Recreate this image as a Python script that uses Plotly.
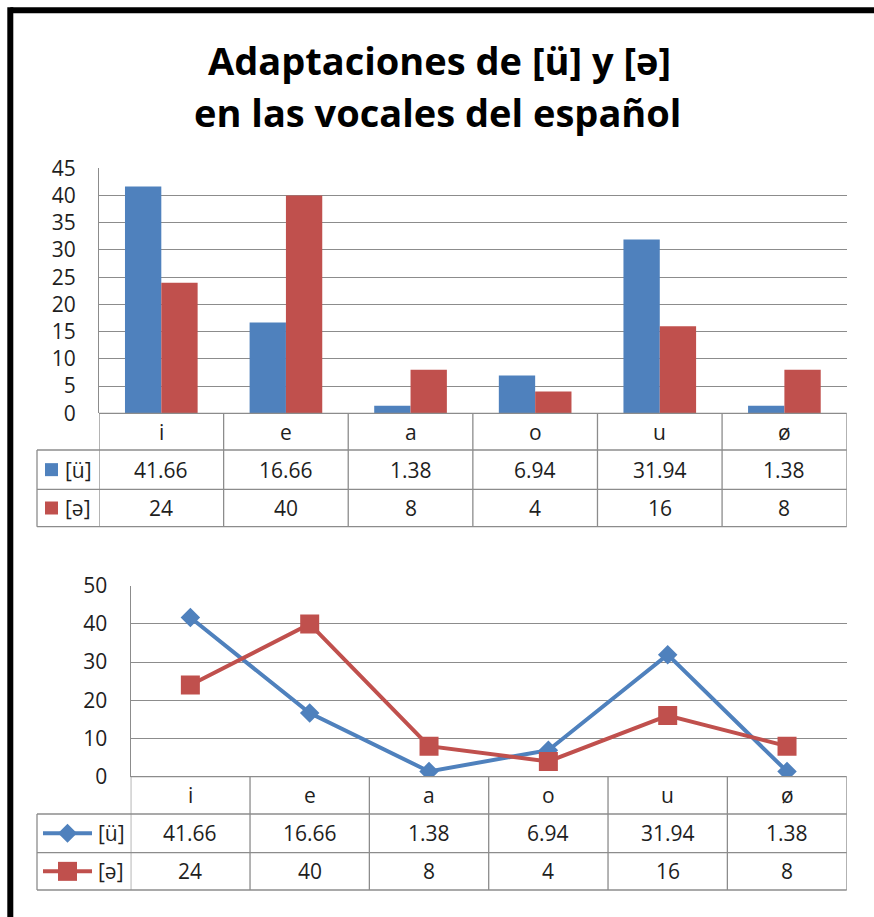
import plotly.graph_objects as go

# ---- data ----
categories = ["i", "e", "a", "o", "u", "ø"]
series_names = ["[ü]", "[ə]"]
u_values = [41.66, 16.66, 1.38, 6.94, 31.94, 1.38]
schwa_values = [24, 40, 8, 4, 16, 8]
bar_ticks = [0, 5, 10, 15, 20, 25, 30, 35, 40, 45]
line_ticks = [0, 10, 20, 30, 40, 50]
title_lines = ["Adaptaciones de [ü] y [ə]", "en las vocales del español"]

# ---- styling ----
W, H = 874, 917
BLUE = "#4F81BD"
RED = "#C0504D"
GRID = "#8C8C8C"
TXT = "#1E1E1E"
FONT = "Open Sans"


def px(x):
    return x / W


def py(y):
    return 1 - y / H


fig = go.Figure()

# clustered columns (top chart)
fig.add_trace(go.Bar(x=categories, y=u_values, name=series_names[0],
                     marker=dict(color=BLUE, line=dict(width=0)),
                     xaxis="x", yaxis="y", showlegend=False))
fig.add_trace(go.Bar(x=categories, y=schwa_values, name=series_names[1],
                     marker=dict(color=RED, line=dict(width=0)),
                     xaxis="x", yaxis="y", showlegend=False))

# lines with markers (bottom chart)
fig.add_trace(go.Scatter(x=categories, y=u_values, name=series_names[0],
                         mode="lines+markers",
                         line=dict(color=BLUE, width=4),
                         marker=dict(symbol="diamond", size=15, color=BLUE),
                         xaxis="x2", yaxis="y2", showlegend=False))
fig.add_trace(go.Scatter(x=categories, y=schwa_values, name=series_names[1],
                         mode="lines+markers",
                         line=dict(color=RED, width=4),
                         marker=dict(symbol="square", size=19, color=RED),
                         xaxis="x2", yaxis="y2", showlegend=False))

shapes = []
annotations = []

# outer frame (top and left edges)
shapes.append(dict(type="line", xref="paper", yref="paper",
                   x0=px(10.3), x1=1.0, y0=py(10.3), y1=py(10.3),
                   line=dict(color="black", width=6)))
shapes.append(dict(type="line", xref="paper", yref="paper",
                   x0=px(10.3), x1=px(10.3), y0=py(7.3), y1=0.0,
                   line=dict(color="black", width=6)))

# title
annotations.append(dict(text="<b>%s</b>" % title_lines[0], xref="paper", yref="paper",
                        x=px(439), y=py(60), xanchor="center", yanchor="middle",
                        showarrow=False, font=dict(family=FONT, size=38, color="black")))
annotations.append(dict(text="<b>%s</b>" % title_lines[1], xref="paper", yref="paper",
                        x=px(437), y=py(112), xanchor="center", yanchor="middle",
                        showarrow=False, font=dict(family=FONT, size=38, color="black")))


def data_table(xref, x_left, x_right, legend_left, rows, key):
    """Data table under a chart: category row + one row per series."""
    top, r1, r2, bottom = rows
    n = len(categories)
    # horizontal rules
    shapes.append(dict(type="line", xref="paper", yref="paper",
                       x0=px(x_left), x1=px(x_right), y0=py(top), y1=py(top),
                       line=dict(color=GRID, width=1.3)))
    for y in (r1, r2, bottom):
        shapes.append(dict(type="line", xref="paper", yref="paper",
                           x0=px(legend_left), x1=px(x_right), y0=py(y), y1=py(y),
                           line=dict(color=GRID, width=1.3)))
    # vertical rules at the category boundaries
    for k in range(n + 1):
        shapes.append(dict(type="line", xref=xref, yref="paper",
                           x0=k - 0.5, x1=k - 0.5, y0=py(top), y1=py(bottom),
                           line=dict(color=GRID, width=1.3)))
    shapes.append(dict(type="line", xref="paper", yref="paper",
                       x0=px(legend_left), x1=px(legend_left), y0=py(r1), y1=py(bottom),
                       line=dict(color=GRID, width=1.3)))
    # cells
    row_centres = [(top + r1) / 2, (r1 + r2) / 2, (r2 + bottom) / 2]
    for cat, a, b in zip(categories, u_values, schwa_values):
        for txt, yc in ((cat, row_centres[0]), (f"{a:g}", row_centres[1]),
                        (f"{b:g}", row_centres[2])):
            annotations.append(dict(text=txt, xref=xref, yref="paper",
                                    x=cat, y=py(yc), xanchor="center", yanchor="middle",
                                    showarrow=False,
                                    font=dict(family=FONT, size=21, color=TXT)))
    # legend keys + series names
    for name, color, yc, sym in ((series_names[0], BLUE, row_centres[1], "diamond"),
                                 (series_names[1], RED, row_centres[2], "square")):
        if key == "box":
            shapes.append(dict(type="rect", xref="paper", yref="paper",
                               x0=px(45), x1=px(58), y0=py(yc - 6.5), y1=py(yc + 6.5),
                               fillcolor=color, line=dict(width=0)))
            tx = 63
        else:
            shapes.append(dict(type="line", xref="paper", yref="paper",
                               x0=px(43), x1=px(92), y0=py(yc), y1=py(yc),
                               line=dict(color=color, width=4)))
            cx = 67.5
            r = 9.5
            if sym == "diamond":
                path = (f"M {px(cx - r)},{py(yc)} L {px(cx)},{py(yc - r)} "
                        f"L {px(cx + r)},{py(yc)} L {px(cx)},{py(yc + r)} Z")
            else:
                path = (f"M {px(cx - r)},{py(yc - r)} L {px(cx + r)},{py(yc - r)} "
                        f"L {px(cx + r)},{py(yc + r)} L {px(cx - r)},{py(yc + r)} Z")
            shapes.append(dict(type="path", xref="paper", yref="paper", path=path,
                               fillcolor=color, line=dict(width=0)))
            tx = 96
        annotations.append(dict(text=name, xref="paper", yref="paper",
                                x=px(tx), y=py(yc), xanchor="left", yanchor="middle",
                                showarrow=False,
                                font=dict(family=FONT, size=21, color=TXT)))


data_table("x", 99, 846.7, 37, (413.3, 450, 489.3, 526.7), "box")
data_table("x2", 130.7, 846.7, 37, (776.7, 814, 852.7, 890), "line")

axis_common = dict(showgrid=False, zeroline=False, showline=False,
                   showticklabels=False, ticks="", type="category",
                   range=[-0.5, 5.5], fixedrange=True, automargin=False)
yaxis_common = dict(showgrid=True, gridcolor=GRID, gridwidth=1.3, zeroline=False,
                    showline=True, linecolor=GRID, linewidth=1.3, ticks="",
                    tickfont=dict(family=FONT, size=21, color=TXT),
                    ticklabelstandoff=18, fixedrange=True, automargin=False)

fig.update_layout(
    width=W, height=H, autosize=False,
    margin=dict(l=0, r=0, t=0, b=0, pad=0, autoexpand=False),
    paper_bgcolor="white", plot_bgcolor="white",
    barmode="group", bargap=0.417, bargroupgap=0,
    xaxis=dict(domain=[px(99), px(846.7)], anchor="y", **axis_common),
    yaxis=dict(domain=[py(413.3), py(168.3)], range=[0, 45],
               tickvals=bar_ticks, anchor="x", **yaxis_common),
    xaxis2=dict(domain=[px(130.7), px(846.7)], anchor="y2", **axis_common),
    yaxis2=dict(domain=[py(776.7), py(585.7)], range=[0, 50],
                tickvals=line_ticks, anchor="x2", **yaxis_common),
    shapes=shapes,
    annotations=annotations,
    font=dict(family=FONT, color=TXT),
)

fig.write_html("out.html")
